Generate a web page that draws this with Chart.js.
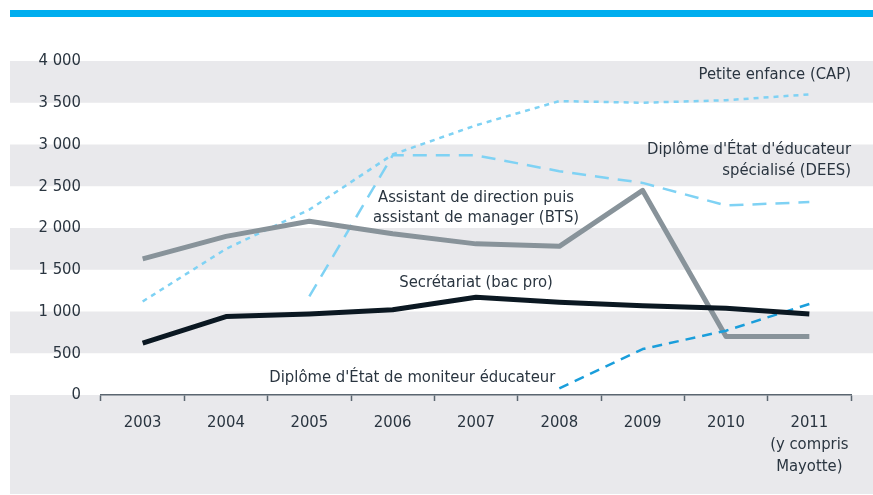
<!DOCTYPE html>
<html>
<head>
<meta charset="utf-8">
<script src="https://cdn.jsdelivr.net/npm/chart.js@4.4.1/dist/chart.umd.min.js"></script>
<style>
  body { margin: 0; background: #fff; }
  #wrap { position: relative; width: 873px; height: 495px; overflow: hidden; }
  #topbar { position: absolute; left: 10px; top: 10px; width: 863px; height: 7px; background: #00aeef; }
  canvas { position: absolute; left: 0; top: 0; }
</style>
</head>
<body>
<div id="wrap">
  <div id="topbar"></div>
  <canvas id="chart_diplomes" width="873" height="495"></canvas>
</div>
<script>
const years = ['2003', '2004', '2005', '2006', '2007', '2008', '2009', '2010', ['2011', '(y compris', 'Mayotte)']];
const secretariat = [620, 940, 970, 1020, 1170, 1110, 1070, 1040, 970];
const assistant = [1630, 1900, 2080, 1930, 1810, 1780, 2450, 700, 700];
const petiteEnfance = [1120, 1750, 2220, 2880, 3230, 3520, 3500, 3530, 3600];
const dees = [null, null, 1180, 2870, 2870, 2680, 2540, 2270, 2310];
const moniteur = [null, null, null, null, null, 80, 550, 770, 1090];
const yTicks = [0, 500, 1000, 1500, 2000, 2500, 3000, 3500, 4000];

const FONT = '"Liberation Sans Narrow", "DejaVu Sans Condensed", sans-serif';
const FONT_SIZE = 16.5;
const TEXT = '#2a3540';
const GREY_BAND = '#e9e9ec';

// bandes grises alternées + zone grise sous l'axe
const bandsPlugin = {
    id: 'bands',
    beforeDraw(chart) {
        const ctx = chart.ctx;
        const y = chart.scales.y;
        ctx.save();
        ctx.fillStyle = GREY_BAND;
        for (let k = 0; k < yTicks.length - 1; k++) {
            if (k % 2 === 1) {
                const top = y.getPixelForValue(yTicks[k + 1]);
                const bottom = y.getPixelForValue(yTicks[k]);
                ctx.fillRect(10, top, chart.width - 10, bottom - top);
            }
        }
        const zero = y.getPixelForValue(0);
        ctx.fillRect(10, zero, chart.width - 10, chart.height - 1 - zero);
        ctx.restore();
    }
};

// étiquettes des séries
const labelsPlugin = {
    id: 'seriesLabels',
    afterDatasetsDraw(chart) {
        const ctx = chart.ctx;
        const x = chart.scales.x;
        const y = chart.scales.y;
        const right = chart.chartArea.right;
        ctx.save();
        ctx.font = FONT_SIZE + 'px ' + FONT;
        ctx.fillStyle = TEXT;
        ctx.textBaseline = 'middle';

        ctx.textAlign = 'right';
        ctx.fillText('Petite enfance (CAP)', right, y.getPixelForValue(3830));
        ctx.fillText("Diplôme d'État d'éducateur", right, y.getPixelForValue(2935));
        ctx.fillText('spécialisé (DEES)', right, y.getPixelForValue(2685));
        ctx.fillText("Diplôme d'État de moniteur éducateur", x.getPixelForValue(5) - 4, y.getPixelForValue(205));

        ctx.textAlign = 'center';
        const cx = x.getPixelForValue(4);
        ctx.fillText('Assistant de direction puis', cx, y.getPixelForValue(2365));
        ctx.fillText('assistant de manager (BTS)', cx, y.getPixelForValue(2125));
        ctx.fillText('Secrétariat (bac pro)', cx, y.getPixelForValue(1340));
        ctx.restore();
    }
};

const ctxDiplomes = document.getElementById('chart_diplomes');
const diplomesChart = new Chart(ctxDiplomes, {
    type: 'line',
    data: {
        labels: years,
        datasets: [{
            label: 'Secrétariat (bac pro)',
            data: secretariat,
            borderColor: '#0b1822',
            borderWidth: 5
        }, {
            label: 'Diplôme d\'État de moniteur éducateur',
            data: moniteur,
            borderColor: '#1a9edb',
            borderWidth: 2.5,
            borderDash: [10, 7]
        }, {
            label: 'Assistant de direction puis assistant de manager (BTS)',
            data: assistant,
            borderColor: '#88939a',
            borderWidth: 5
        }, {
            label: 'Diplôme d\'État d\'éducateur spécialisé (DEES)',
            data: dees,
            borderColor: '#7fd2f4',
            borderWidth: 2.5,
            borderDash: [14, 9]
        }, {
            label: 'Petite enfance (CAP)',
            data: petiteEnfance,
            borderColor: '#7fd2f4',
            borderWidth: 2.5,
            borderDash: [5, 5]
        }]
    },
    options: {
        responsive: false,
        animation: false,
        events: [],
        layout: {
            padding: { left: 0, top: 61, right: 22, bottom: 0 }
        },
        elements: {
            point: { radius: 0 },
            line: { tension: 0, borderJoinStyle: 'round', borderCapStyle: 'butt', fill: false }
        },
        plugins: {
            legend: { display: false },
            tooltip: { enabled: false }
        },
        scales: {
            x: {
                offset: true,
                afterFit(scale) { scale.height = 100; },
                grid: {
                    offset: true,
                    drawOnChartArea: false,
                    drawTicks: true,
                    tickLength: 6,
                    tickColor: '#5b6670',
                    tickWidth: 1.5
                },
                border: { display: true, color: '#5b6670', width: 1.5 },
                ticks: {
                    color: TEXT,
                    padding: 11,
                    maxRotation: 0,
                    autoSkip: false,
                    font: { family: FONT, size: FONT_SIZE, lineHeight: 1.33 }
                }
            },
            y: {
                min: 0,
                max: 4000,
                afterFit(scale) { scale.width = 101; },
                afterBuildTicks(scale) { scale.ticks = yTicks.map(v => ({ value: v })); },
                grid: { display: false, drawTicks: false },
                border: { display: false },
                ticks: {
                    color: TEXT,
                    padding: 20,
                    font: { family: FONT, size: FONT_SIZE },
                    callback: v => v >= 1000 ? Math.floor(v / 1000) + ' ' + String(v % 1000).padStart(3, '0') : String(v)
                }
            }
        }
    },
    plugins: [bandsPlugin, labelsPlugin]
});
</script>
</body>
</html>
